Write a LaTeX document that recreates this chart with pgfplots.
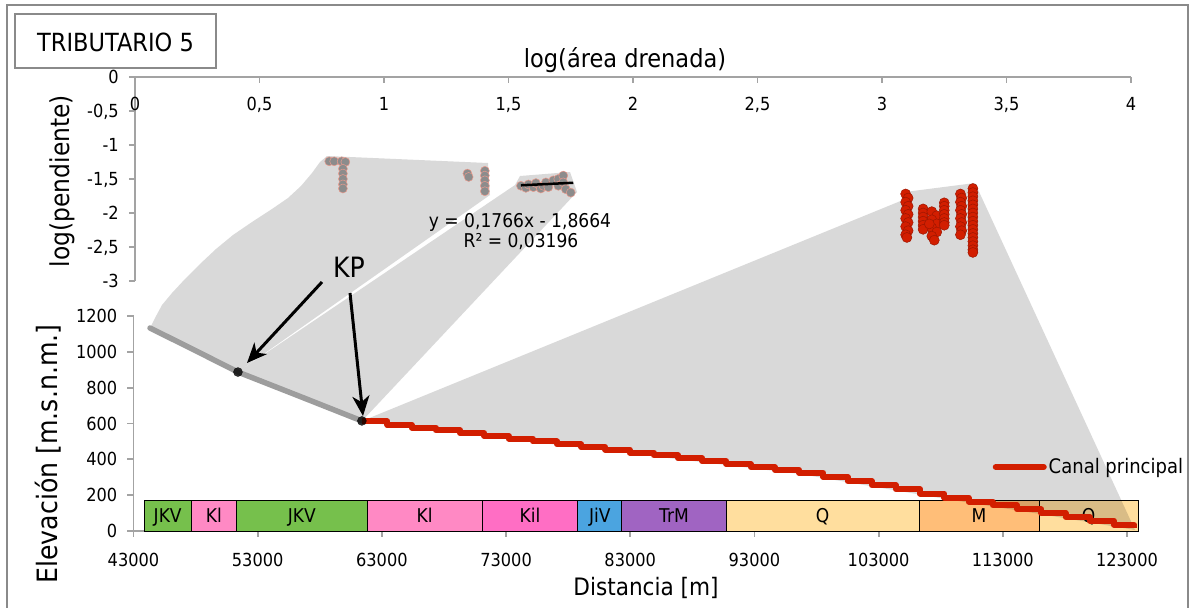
\documentclass[border=0pt]{standalone}
\usepackage{fontspec}
\setmainfont{DejaVu Sans}[FakeStretch=0.9]
\usepackage{tikz}
\usepackage{pgfplots}
\pgfplotsset{compat=1.18}
\usetikzlibrary{arrows.meta}

\definecolor{axisgray}{HTML}{A3A3A3}
\definecolor{framegray}{HTML}{8A8A8A}
\definecolor{canal}{HTML}{D21E00}
\definecolor{tribgray}{HTML}{8C8C8C}
\definecolor{uJKV}{HTML}{76C04C}
\definecolor{uKl}{HTML}{FF89C4}
\definecolor{uKil}{HTML}{FF6EC4}
\definecolor{uJiV}{HTML}{4BA4E0}
\definecolor{uTrM}{HTML}{A064C2}
\definecolor{uQ}{HTML}{FFDE9E}
\definecolor{uM}{HTML}{FFBE78}

\newcommand{\fs}[1]{\fontsize{#1bp}{#1bp}\selectfont}

\pgfplotsset{
  trib base/.style={
    scale only axis, anchor=south west, clip=false,
    /pgf/number format/assume math mode=true,
    /pgf/number format/use comma,
    /pgf/number format/1000 sep={},
    scaled ticks=false,
    tick label style={font=\fs{18}, text=black, inner sep=0pt, text height=13.1bp, text depth=0pt,
      /pgf/number format/fixed},
    axis line style={axisgray, line width=1.8bp},
    tick style={axisgray, line width=1.8bp},
    major tick length=6bp, tick align=outside,
    yticklabel style={anchor=east, xshift=-10bp},
  },
  bottom frame/.style={trib base, at={(133.5bp,77bp)}, width=1006bp, height=214.8bp,
    xmin=43000, xmax=124000, ymin=0, ymax=1200},
  top frame/.style={trib base, at={(135bp,327bp)}, width=996bp, height=204bp,
    xmin=0, xmax=4, ymin=-3, ymax=0},
  unit bar/.style={draw=black, line width=0.8bp, forget plot},
}

\begin{document}
\begin{tikzpicture}
\useasboundingbox (0,0) rectangle (1193bp,608bp);

% --- elevation axis with the geological units
\begin{axis}[bottom frame,
  axis x line*=bottom, axis y line*=left,
  xtick={43000,53000,63000,73000,83000,93000,103000,113000,123000},
  ytick={0,200,400,600,800,1000,1200},
  xticklabel style={anchor=north, yshift=-16bp},
]
\addplot[unit bar, fill=uJKV] coordinates {(43850,0) (47660,0) (47660,170) (43850,170)} -- cycle;
\addplot[unit bar, fill=uKl]  coordinates {(47660,0) (51280,0) (51280,170) (47660,170)} -- cycle;
\addplot[unit bar, fill=uJKV] coordinates {(51280,0) (61820,0) (61820,170) (51280,170)} -- cycle;
\addplot[unit bar, fill=uKl]  coordinates {(61820,0) (71080,0) (71080,170) (61820,170)} -- cycle;
\addplot[unit bar, fill=uKil] coordinates {(71080,0) (78780,0) (78780,170) (71080,170)} -- cycle;
\addplot[unit bar, fill=uJiV] coordinates {(78780,0) (82320,0) (82320,170) (78780,170)} -- cycle;
\addplot[unit bar, fill=uTrM] coordinates {(82320,0) (90740,0) (90740,170) (82320,170)} -- cycle;
\addplot[unit bar, fill=uQ]   coordinates {(90740,0) (106250,0) (106250,170) (90740,170)} -- cycle;
\addplot[unit bar, fill=uM]   coordinates {(106250,0) (115920,0) (115920,170) (106250,170)} -- cycle;
\addplot[unit bar, fill=uQ]   coordinates {(115920,0) (123900,0) (123900,170) (115920,170)} -- cycle;
\begin{scope}[every node/.style={font=\fs{19}, text height=13.5bp, text depth=0pt}]
\node at (axis cs:45755,85) {JKV};
\node at (axis cs:49470,85) {Kl};
\node at (axis cs:56550,85) {JKV};
\node at (axis cs:66450,85) {Kl};
\node at (axis cs:74930,85) {Kil};
\node at (axis cs:80550,85) {JiV};
\node at (axis cs:86530,85) {TrM};
\node at (axis cs:98495,85) {Q};
\node at (axis cs:111085,85) {M};
\node at (axis cs:119910,85) {Q};
\end{scope}
\end{axis}

% --- overlay in picture pixels: linking areas, frame, titles, arrows
\begin{axis}[scale only axis, at={(0,0)}, anchor=south west,
  width=1193bp, height=608bp, xmin=0, xmax=1193, ymin=0, ymax=608,
  y dir=reverse, hide axis, clip=false]
\addplot[fill=black, fill opacity=0.15, draw=none] coordinates {
  (150,328) (155,318) (162,305) (172,293) (185,279) (200,264) (216,249) (233,235)
  (252,222) (272,209) (288,198) (301,186) (312,173) (320,162) (327,156)
  (488,163) (490,195) (238,372)} -- cycle;
\addplot[fill=black, fill opacity=0.15, draw=none] coordinates {
  (238,372) (515,185) (520,176) (570,172) (577,192) (362,421)} -- cycle;
\addplot[fill=black, fill opacity=0.15, draw=none] coordinates {
  (362,421) (903,200) (905,192) (975,183) (1135,530) (1040,514) (940,498)
  (800,474) (660,457) (363,422)} -- cycle;
\draw[framegray, line width=2bp] (axis cs:7,5) rectangle (axis cs:1188,612);
\draw[framegray, line width=1.5bp, fill=white] (axis cs:15,14) rectangle (axis cs:216,68);
\node[font=\fs{25}] at (axis cs:115.5,42) {TRIBUTARIO 5};
\node[font=\fs{25}] at (axis cs:625,60) {log(área drenada)};
\node[font=\fs{26}, rotate=90] at (axis cs:62,181) {log(pendiente)};
\node[font=\fs{28}, rotate=90] at (axis cs:48,454) {Elevación [m.s.n.m.]};
\node[font=\fs{24}] at (axis cs:646,588) {Distancia [m]};
\node[font=\fs{28}] at (axis cs:349,267) {KP};
\node[font=\fs{19}] at (axis cs:520,222) {y = 0,1766x - 1,8664};
\node[font=\fs{19}] at (axis cs:521,242) {R² = 0,03196};
\draw[-{Stealth[length=20bp,width=17bp,inset=6bp]}, line width=3bp]
  (axis cs:322,282) -- (axis cs:247,363);
\draw[-{Stealth[length=20bp,width=17bp,inset=6bp]}, line width=3bp]
  (axis cs:350,293) -- (axis cs:363,416);
\end{axis}

% --- longitudinal profile
\begin{axis}[bottom frame, hide axis,
  legend style={at={(0.854,0.298)}, anchor=west, draw=none, fill=none,
    font=\fs{20}, inner xsep=0pt, inner ysep=0pt},
  legend image code/.code={\draw[#1, line width=6bp, line cap=round] (0bp,0bp) -- (48bp,0bp);},
]
\addplot[tribgray!85, line width=5.5bp, line cap=round, forget plot] coordinates {
  (44330,1134) (47870,1012) (51410,888) (56400,752) (61390,615)};
\addplot[canal, line width=6bp, const plot, line join=round] coordinates {
  (61390,612) (63450,593) (65400,578) (67350,562) (69300,547) (71250,531)
  (73200,516) (75150,500) (77100,485) (79050,469) (81000,454) (82950,438)
  (84900,423) (86850,407) (88800,390) (90750,374) (92700,357) (94650,341)
  (96600,325) (98550,302) (100500,278) (102450,255) (104400,232) (106350,209)
  (108300,186) (110250,164) (112200,143) (114150,121) (116100,100) (118050,78)
  (120000,57) (121950,35) (123600,17)};
\addlegendentry{Canal principal}
\addplot[only marks, mark=*, mark size=4.5bp, black, opacity=0.8, forget plot]
  coordinates {(51410,888) (61390,615)};
\end{axis}

% --- slope-area axis
\begin{axis}[top frame,
  axis x line*=top, axis y line*=left,
  xtick={0,0.5,1,1.5,2,2.5,3,3.5,4},
  ytick={-3,-2.5,-2,-1.5,-1,-0.5,0},
  every x tick/.append style={yshift=-6bp},
  xticklabel style={anchor=north, yshift=-26bp},
]
\addplot[only marks, mark=*, mark size=4.5bp,
  mark options={fill=tribgray, draw=canal!45, line width=0.5bp}] coordinates {
  (0.78,-1.24) (0.80,-1.24) (0.83,-1.24) (0.845,-1.25)
  (0.835,-1.35) (0.835,-1.42) (0.835,-1.50) (0.835,-1.58) (0.835,-1.64)
  (1.335,-1.42) (1.34,-1.47)
  (1.405,-1.38) (1.405,-1.45) (1.405,-1.52) (1.405,-1.60) (1.405,-1.68)
  (1.55,-1.60) (1.57,-1.63) (1.58,-1.58) (1.60,-1.62) (1.61,-1.56) (1.63,-1.64)
  (1.64,-1.60) (1.65,-1.55) (1.66,-1.62) (1.68,-1.52) (1.70,-1.50) (1.70,-1.60)
  (1.72,-1.45) (1.72,-1.55) (1.73,-1.65) (1.75,-1.70)};
\addplot[only marks, mark=*, mark size=5bp,
  mark options={fill=canal, draw=canal!75!black, line width=0.5bp}] coordinates {
  (3.095,-1.72) (3.105,-1.78) (3.095,-1.84) (3.105,-1.90) (3.095,-1.96) (3.105,-2.02)
  (3.095,-2.08) (3.105,-2.14) (3.095,-2.20) (3.105,-2.26) (3.095,-2.32) (3.10,-2.36)
  (3.165,-1.94) (3.165,-2.00) (3.165,-2.06) (3.165,-2.12) (3.165,-2.18) (3.165,-2.24)
  (3.20,-1.98) (3.22,-2.04) (3.20,-2.10) (3.22,-2.16) (3.20,-2.22) (3.22,-2.28)
  (3.20,-2.34) (3.21,-2.40) (3.19,-2.16)
  (3.25,-1.85) (3.25,-1.90) (3.25,-1.96) (3.25,-2.02) (3.25,-2.08) (3.25,-2.14) (3.25,-2.18)
  (3.315,-1.72) (3.32,-1.78) (3.315,-1.84) (3.32,-1.90) (3.315,-1.96) (3.32,-2.02)
  (3.315,-2.08) (3.32,-2.14) (3.315,-2.20) (3.32,-2.26) (3.315,-2.32)
  (3.365,-1.64) (3.365,-1.70) (3.365,-1.76) (3.365,-1.82) (3.365,-1.88) (3.365,-1.94)
  (3.365,-2.00) (3.365,-2.06) (3.365,-2.12) (3.365,-2.18) (3.365,-2.24) (3.365,-2.30)
  (3.365,-2.36) (3.365,-2.42) (3.365,-2.48) (3.365,-2.54) (3.365,-2.58)};
\end{axis}

% --- trend line of the middle cluster, above its markers
\begin{axis}[top frame, hide axis]
\addplot[black, line width=2.5bp] coordinates {(1.55,-1.5927) (1.76,-1.5556)};
\end{axis}
\end{tikzpicture}
\end{document}
